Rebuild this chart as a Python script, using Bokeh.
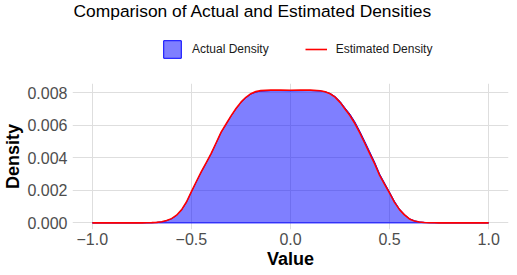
from bokeh.plotting import figure
from bokeh.layouts import column
from bokeh.models import (Range1d, FixedTicker, CustomJSTickFormatter, Legend, LegendItem,
                          Label)
from bokeh.embed import file_html
from bokeh.resources import INLINE

# ---- data ----
x_values = [-1.0, -0.95, -0.9, -0.85, -0.8, -0.75,
            -0.725, -0.7, -0.675, -0.65, -0.625, -0.6, -0.575, -0.55, -0.525, -0.5,
            -0.475, -0.45, -0.425, -0.4, -0.375, -0.35, -0.325, -0.3, -0.275, -0.25,
            -0.225, -0.2, -0.175, -0.15,
            -0.1, -0.05, 0.0, 0.05, 0.1,
            0.15, 0.175, 0.2, 0.225, 0.25, 0.275, 0.3, 0.325, 0.35, 0.375, 0.4,
            0.425, 0.45, 0.475, 0.5, 0.525, 0.55, 0.575, 0.6, 0.625, 0.65,
            0.675, 0.7, 0.725,
            0.75, 0.8, 0.85, 0.9, 0.95, 1.0]

actual_density = [0.0, 0.0, 0.0, 0.0, 0.0, 0.000002,
                  0.000005, 0.00001, 0.00003, 0.00006, 0.00013, 0.00025, 0.00045, 0.00078, 0.00126, 0.00190,
                  0.00252, 0.00312, 0.00368, 0.00425, 0.00490, 0.00555, 0.00605, 0.00655, 0.00700, 0.00738,
                  0.00768, 0.00790, 0.00803, 0.00809,
                  0.00812, 0.00812, 0.00811, 0.00812, 0.00813,
                  0.00810, 0.00805, 0.00795, 0.00776, 0.00746, 0.00706, 0.00668, 0.00620, 0.00562, 0.00500, 0.00436,
                  0.00372, 0.00300, 0.00244, 0.00189, 0.00132, 0.00085, 0.00052, 0.00026, 0.00013, 0.00006,
                  0.00003, 0.00001, 0.000005,
                  0.000002, 0.0, 0.0, 0.0, 0.0, 0.0]

estimated_density = [0.0, 0.0, 0.0, 0.0, 0.0, 0.000002,
                     0.000006, 0.000012, 0.00003, 0.00007, 0.00014, 0.00026, 0.00047, 0.00080, 0.00128, 0.00192,
                     0.00254, 0.00314, 0.00370, 0.00427, 0.00492, 0.00557, 0.00607, 0.00657, 0.00702, 0.00741,
                     0.00771, 0.00793, 0.00806, 0.00812,
                     0.00815, 0.00815, 0.00814, 0.00815, 0.00815,
                     0.00811, 0.00805, 0.00793, 0.00772, 0.00740, 0.00699, 0.00659, 0.00610, 0.00552, 0.00489, 0.00425,
                     0.00362, 0.00291, 0.00236, 0.00182, 0.00126, 0.00081, 0.00049, 0.00024, 0.00012, 0.00005,
                     0.00002, 0.00001, 0.000004,
                     0.000001, 0.0, 0.0, 0.0, 0.0, 0.0]

x_ticks = [-1.0, -0.5, 0.0, 0.5, 1.0]
y_ticks = [0.0, 0.002, 0.004, 0.006, 0.008]

title_text = "Comparison of Actual and Estimated Densities"
x_label = "Value"
y_label = "Density"
series_labels = ["Actual Density", "Estimated Density"]

FONT = "Liberation Sans"
FILL = dict(fill_color="blue", fill_alpha=0.5, line_color="blue", line_width=1)
LINE = dict(line_color="red", line_width=1.6, line_join="round")

x_lo, x_hi = min(x_values), max(x_values)
x_pad = (x_hi - x_lo) * 0.05
y_hi = max(max(actual_density), max(estimated_density))
y_pad = y_hi * 0.05
x_range = Range1d(x_lo - x_pad, x_hi + x_pad)

# ---- header: title + legend (its own frame keeps the series out of view) ----
head = figure(frame_width=436, frame_height=75, output_backend="svg", toolbar_location=None,
              x_range=x_range, y_range=Range1d(1.0, 2.0),
              x_axis_location=None, y_axis_location=None,
              min_border_left=67, min_border_right=6, min_border_top=0, min_border_bottom=0)
head.grid.visible = False
head.outline_line_color = None
head.background_fill_color = "white"
head.border_fill_color = "white"

key_area = head.patch(x_values, actual_density, **FILL)
key_line = head.line(x_values, estimated_density, **LINE)

head.add_layout(Label(x=1, y=65, x_units="screen", y_units="screen", text=title_text,
                      text_font=FONT, text_font_size="17.4px", text_color="black",
                      text_baseline="alphabetic", text_align="left"))

legend = Legend(items=[LegendItem(label=series_labels[0], renderers=[key_area]),
                       LegendItem(label=series_labels[1], renderers=[key_line])],
                orientation="horizontal", location=(89, 15), margin=0, padding=0,
                spacing=36, label_standoff=9, glyph_width=22, glyph_height=22,
                label_text_font=FONT, label_text_font_size="12px", label_text_color="#1A1A1A",
                border_line_color=None, background_fill_alpha=0)
head.add_layout(legend)

# ---- main chart ----
p = figure(frame_width=436, frame_height=146, output_backend="svg", toolbar_location=None,
           x_range=x_range, y_range=Range1d(-y_pad, y_hi + y_pad),
           min_border_left=67, min_border_right=6, min_border_top=8, min_border_bottom=42)
p.background_fill_color = "white"
p.border_fill_color = "white"
p.outline_line_color = None

for g in (p.xgrid, p.ygrid):
    g.grid_line_color = "#DEDEDE"
    g.grid_line_width = 1
    g.minor_grid_line_color = None
p.xgrid.ticker = FixedTicker(ticks=x_ticks)
p.ygrid.ticker = FixedTicker(ticks=y_ticks)

p.xaxis.ticker = FixedTicker(ticks=x_ticks)
p.yaxis.ticker = FixedTicker(ticks=y_ticks)
p.xaxis.formatter = CustomJSTickFormatter(code="return tick.toFixed(1).replace('-', '\\u2212');")
p.yaxis.formatter = CustomJSTickFormatter(code="return tick.toFixed(3);")
for ax in (p.xaxis, p.yaxis):
    ax.axis_line_color = None
    ax.major_tick_line_color = None
    ax.minor_tick_line_color = None
    ax.major_tick_out = 0
    ax.major_tick_in = 0
    ax.major_label_text_font = FONT
    ax.major_label_text_font_size = "16px"
    ax.major_label_text_color = "#4D4D4D"
    ax.axis_label_text_font = FONT
    ax.axis_label_text_font_size = "18px"
    ax.axis_label_text_font_style = "bold"
    ax.axis_label_text_color = "black"
p.xaxis.axis_label = x_label
p.yaxis.axis_label = y_label
p.xaxis.major_label_standoff = 3
p.xaxis.axis_label_standoff = 1
p.yaxis.major_label_standoff = 5
p.yaxis.axis_label_standoff = 1

p.patch(x_values, actual_density, **FILL)
p.line(x_values, estimated_density, **LINE)

layout = column(head, p, spacing=0)
open("out.html", "w").write(file_html(layout, INLINE))
